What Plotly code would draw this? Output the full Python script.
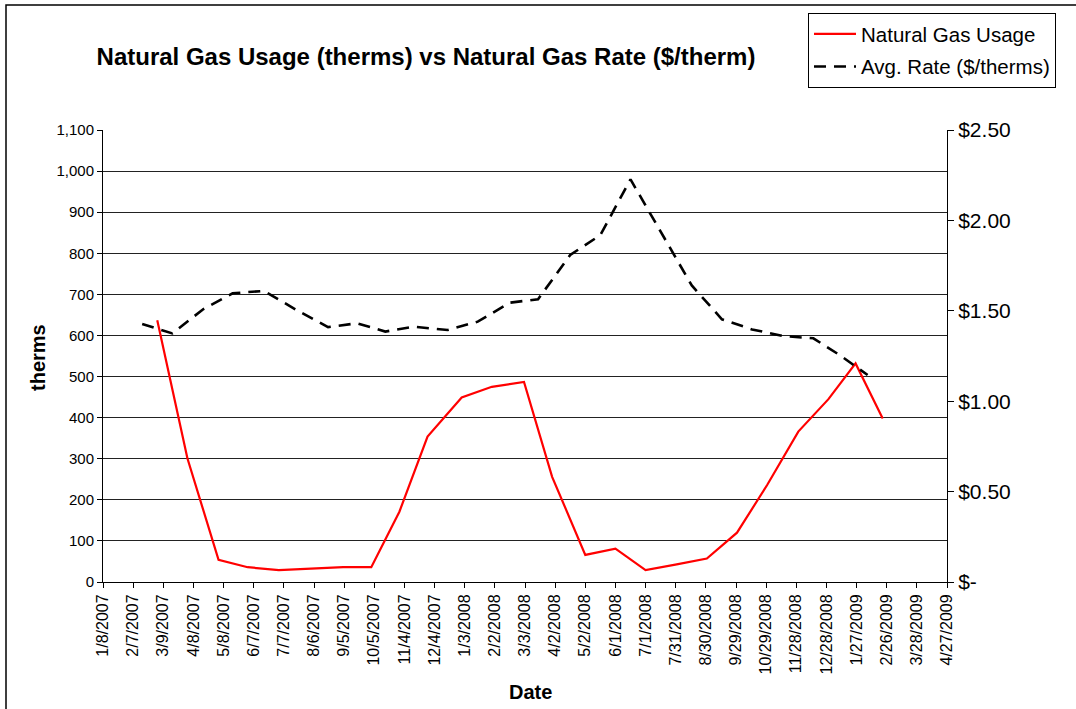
import plotly.graph_objects as go
import pandas as pd

# Natural gas usage (therms), billing read dates
usage_dates = ["2007-03-03", "2007-04-02", "2007-05-03", "2007-06-01", "2007-07-02",
               "2007-08-05", "2007-09-04", "2007-10-02", "2007-10-30", "2007-11-27",
               "2007-12-31", "2008-01-30", "2008-03-02", "2008-03-30", "2008-05-02",
               "2008-06-01", "2008-07-01", "2008-08-01", "2008-08-31", "2008-09-30",
               "2008-10-30", "2008-11-30", "2008-12-30", "2009-01-26", "2009-02-22"]
usage_therms = [637, 301, 54, 36, 29, 32, 36, 36, 171, 354,
                449, 475, 487, 256, 66, 81, 29, 43, 57, 120,
                236, 366, 445, 532, 398]

# Average rate ($/therm)
rate_dates = ["2007-02-16", "2007-03-18", "2007-04-18", "2007-05-17", "2007-06-17",
              "2007-07-21", "2007-08-20", "2007-09-18", "2007-10-16", "2007-11-13",
              "2007-12-17", "2008-01-16", "2008-02-17", "2008-03-16", "2008-04-17",
              "2008-05-17", "2008-06-16", "2008-07-17", "2008-08-16", "2008-09-15",
              "2008-10-15", "2008-11-15", "2008-12-15", "2009-01-11", "2009-02-07"]
rate_dollars = [1.427, 1.375, 1.51, 1.597, 1.61,
                1.50, 1.41, 1.431, 1.385, 1.412,
                1.394, 1.44, 1.545, 1.564, 1.809,
                1.919, 2.227, 1.93, 1.64, 1.453,
                1.397, 1.36, 1.348, 1.252, 1.145]

# Axis tick labels
x_tick_labels = ["1/8/2007", "2/7/2007", "3/9/2007", "4/8/2007", "5/8/2007", "6/7/2007",
                 "7/7/2007", "8/6/2007", "9/5/2007", "10/5/2007", "11/4/2007", "12/4/2007",
                 "1/3/2008", "2/2/2008", "3/3/2008", "4/2/2008", "5/2/2008", "6/1/2008",
                 "7/1/2008", "7/31/2008", "8/30/2008", "9/29/2008", "10/29/2008",
                 "11/28/2008", "12/28/2008", "1/27/2009", "2/26/2009", "3/28/2009",
                 "4/27/2009"]
y_left_ticks = [0, 100, 200, 300, 400, 500, 600, 700, 800, 900, 1000, 1100]
y_right_ticks = [0, 0.5, 1.0, 1.5, 2.0, 2.5]
y_right_labels = ["$-", "$0.50", "$1.00", "$1.50", "$2.00", "$2.50"]

x_tick_vals = [pd.to_datetime(s, format="%m/%d/%Y") for s in x_tick_labels]

FONT = "Arial, Liberation Sans, sans-serif"

W, H = 1076, 709
L, R, T, B = 103, 947, 130, 582


def px(x):
    return (x - L) / (R - L)


def py(y):
    return (B - y) / (B - T)


fig = go.Figure()
fig.add_trace(go.Scatter(
    x=pd.to_datetime(usage_dates), y=usage_therms, name="Natural Gas Usage",
    legendgroup="a", mode="lines", line=dict(color="#FF0000", width=2.2), yaxis="y"))
fig.add_trace(go.Scatter(
    x=pd.to_datetime(rate_dates), y=rate_dollars, name="Avg. Rate ($/therms)",
    legendgroup="b", mode="lines", line=dict(color="#000000", width=2.6, dash="12px,8px"),
    yaxis="y2"))

fig.update_layout(
    width=W, height=H,
    margin=dict(l=L, r=W - R, t=T, b=H - B, autoexpand=False),
    paper_bgcolor="white", plot_bgcolor="white",
    font=dict(family=FONT, color="black"),
    title=dict(text="<b>Natural Gas Usage (therms) vs Natural Gas Rate ($/therm)</b>",
               x=426 / W, xref="container", xanchor="center",
               y=1 - 57 / H, yref="container", yanchor="middle",
               font=dict(size=24, family=FONT, color="black")),
    xaxis=dict(type="date", range=[x_tick_vals[0], x_tick_vals[-1]],
               tickvals=x_tick_vals, ticktext=x_tick_labels, tickangle=-90,
               tickfont=dict(size=16, family=FONT, color="black"),
               showline=True, linecolor="black", linewidth=1,
               ticks="outside", ticklen=5, tickcolor="black",
               showgrid=False, zeroline=False),
    yaxis=dict(range=[0, 1100], tickvals=y_left_ticks, tickformat=",",
               tickfont=dict(size=15, family=FONT, color="black"),
               showline=True, linecolor="black", linewidth=1,
               ticks="outside", ticklen=5, tickcolor="black",
               showgrid=True, gridcolor="#222222", gridwidth=1, zeroline=False),
    yaxis2=dict(range=[0, 2.5], tickvals=y_right_ticks, ticktext=y_right_labels,
                overlaying="y", side="right",
                tickfont=dict(size=21, family=FONT, color="black"),
                showline=True, linecolor="black", linewidth=1,
                ticks="outside", ticklen=6, tickcolor="black",
                showgrid=False, zeroline=False),
    legend=dict(x=px(808), y=py(13), xanchor="left", yanchor="top",
                bgcolor="white", bordercolor="black", borderwidth=1,
                font=dict(size=20.5, family=FONT, color="black"),
                tracegroupgap=3, itemwidth=42),
    showlegend=True,
)

fig.add_annotation(text="<b>therms</b>", xref="paper", yref="paper",
                   x=px(38), y=py(358), xanchor="center", yanchor="middle",
                   textangle=-90, showarrow=False,
                   font=dict(size=20, family=FONT, color="black"))
fig.add_annotation(text="<b>Date</b>", xref="paper", yref="paper",
                   x=px(530), y=py(692), xanchor="center", yanchor="middle",
                   showarrow=False, font=dict(size=20, family=FONT, color="black"))

# chart-area border
fig.add_shape(type="rect", xref="paper", yref="paper",
              x0=px(6), x1=px(1100), y0=py(730), y1=py(5),
              line=dict(color="black", width=1.5), layer="below")

# remove the default page margin so the figure fills the window exactly
fig.write_html("out.html",
               config={"displayModeBar": False},
               post_script="document.body.style.margin='0';document.body.style.overflow='hidden';")
